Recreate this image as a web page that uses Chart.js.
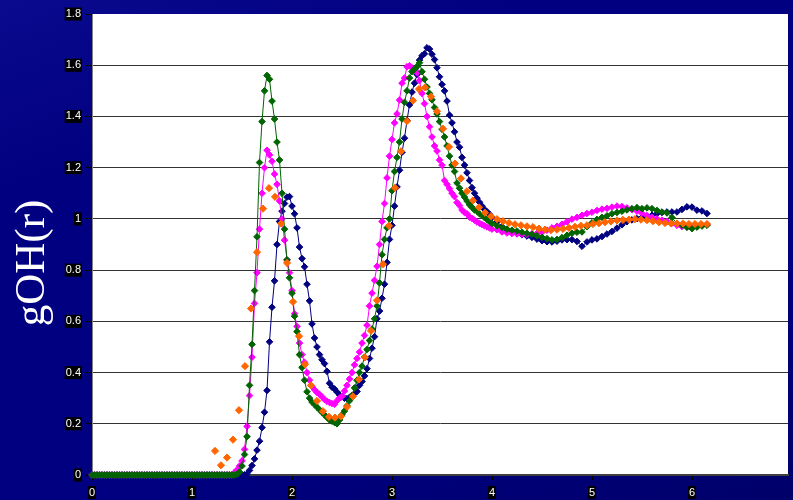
<!DOCTYPE html>
<html><head><meta charset="utf-8">
<script src="https://cdn.jsdelivr.net/npm/chart.js@4/dist/chart.umd.min.js"></script>
<style>
html,body{margin:0;padding:0;width:793px;height:500px;overflow:hidden;}
body{background:linear-gradient(160deg,#0a0a8e 0%,#000080 25%,#000080 70%,#00006a 100%);}
#wrap{position:relative;width:793px;height:500px;}
</style></head><body><div id="wrap"><canvas id="c"></canvas></div>
<script>
// r values shared by the navy, magenta and green series
const rGrid = [
0,0.025,0.05,0.075,0.1,0.125,0.15,0.175,0.2,0.225,0.25,0.275,0.3,0.325,0.35,0.375,0.4,0.425,0.45,0.475,
0.5,0.525,0.55,0.575,0.6,0.625,0.65,0.675,0.7,0.725,0.75,0.775,0.8,0.825,0.85,0.875,0.9,0.925,0.95,0.975,
1,1.025,1.05,1.075,1.1,1.125,1.15,1.175,1.2,1.225,1.25,1.275,1.3,1.325,1.35,1.375,1.4,
1.425,1.45,1.475,1.5,1.525,1.55,1.575,1.6,1.625,1.65,
1.675,1.7,1.725,1.75,1.775,1.8,1.825,1.85,1.875,1.9,
1.925,1.95,1.975,2,2.025,2.05,2.075,2.1,2.125,2.15,
2.175,2.2,2.225,2.25,2.275,2.3,2.325,2.35,2.375,2.4,
2.425,2.45,2.475,2.5,2.525,2.55,2.575,2.6,2.625,2.65,
2.675,2.7,2.725,2.75,2.775,2.8,2.825,2.85,2.875,2.9,
2.925,2.95,2.975,3,3.025,3.05,3.075,3.1,3.125,3.15,
3.175,3.2,3.225,3.25,3.275,3.3,3.325,3.35,3.375,3.4,
3.425,3.45,3.475,3.5,3.525,3.55,3.575,3.6,3.625,3.65,
3.675,3.7,3.725,3.75,3.775,3.8,3.825,3.85,3.875,3.9,
3.925,3.95,3.975,4,
4.05,4.1,4.15,4.2,4.25,4.3,4.35,4.4,4.45,4.5,
4.55,4.6,4.65,4.7,4.75,4.8,4.85,4.9,4.95,5,
5.05,5.1,5.15,5.2,5.25,5.3,5.35,5.4,5.45,5.5,
5.55,5.6,5.65,5.7,5.75,5.8,5.85,5.9,5.95,6,
6.05,6.1,6.15];

const navyG = [
0,0,0,0,0,0,0,0,0,0,0,0,0,0,0,0,0,0,0,0,
0,0,0,0,0,0,0,0,0,0,0,0,0,0,0,0,0,0,0,0,
0,0,0,0,0,0,0,0,0,0,0,0,0,0,0,0,0,
0,0,0,0,0.001,0.004,0.018,0.037,0.063,0.097,
0.132,0.185,0.245,0.33,0.52,0.655,0.758,0.9,0.99,1.03,
1.06,1.085,1.087,1.05,1.02,0.965,0.89,0.845,0.813,0.745,
0.68,0.59,0.535,0.5,0.47,0.45,0.435,0.405,0.358,0.343,
0.336,0.324,0.313,0.305,0.3,0.298,0.303,0.31,0.318,0.326,
0.35,0.365,0.387,0.415,0.455,0.495,0.54,0.61,0.64,0.69,
0.745,0.83,0.92,0.975,1.05,1.125,1.19,1.26,1.315,1.385,
1.445,1.495,1.53,1.564,1.62,1.637,1.645,1.668,1.663,1.643,
1.622,1.59,1.555,1.525,1.5,1.46,1.405,1.375,1.34,1.3,
1.28,1.24,1.21,1.18,1.15,1.122,1.1,1.081,1.065,1.05,
1.037,1.028,1.018,1.005,
0.99,0.97,0.958,0.948,0.944,0.938,0.933,0.928,0.921,0.915,
0.911,0.91,0.913,0.918,0.919,0.919,0.912,0.893,0.91,0.918,
0.922,0.931,0.941,0.951,0.964,0.977,0.989,0.996,1.001,1.006,
1.01,1.014,1.021,1.025,1.027,1.027,1.027,1.037,1.047,1.046,
1.034,1.031,1.021];

const magentaG = [
0,0,0,0,0,0,0,0,0,0,0,0,0,0,0,0,0,0,0,0,
0,0,0,0,0,0,0,0,0,0,0,0,0,0,0,0,0,0,0,0,
0,0,0,0,0,0,0,0,0,0,0,0,0,0,0,0,0,
0.01,0.02,0.035,0.055,0.1,0.19,0.31,0.46,0.67,0.79,
0.96,1.1,1.2,1.268,1.25,1.225,1.175,1.135,1.07,1.0,
0.917,0.84,0.79,0.72,0.63,0.58,0.515,0.47,0.44,0.4,
0.37,0.345,0.333,0.322,0.315,0.305,0.295,0.288,0.283,0.279,
0.276,0.29,0.3,0.307,0.328,0.35,0.375,0.4,0.43,0.455,
0.48,0.515,0.545,0.585,0.66,0.71,0.76,0.815,0.9,0.99,
1.06,1.16,1.245,1.31,1.375,1.41,1.464,1.53,1.55,1.594,
1.598,1.59,1.585,1.572,1.54,1.49,1.45,1.4,1.36,1.32,
1.285,1.265,1.23,1.21,1.15,1.135,1.118,1.1,1.087,1.064,
1.052,1.035,1.025,1.02,1.007,1.002,0.995,0.988,0.983,0.978,
0.973,0.969,0.965,0.96,
0.958,0.949,0.945,0.943,0.941,0.94,0.94,0.942,0.944,0.948,
0.956,0.965,0.971,0.979,0.989,0.999,1.006,1.014,1.021,1.026,
1.033,1.038,1.041,1.046,1.05,1.048,1.043,1.036,1.03,1.022,
1.013,1.006,1.0,0.995,0.99,0.983,0.975,0.97,0.969,0.969,
0.97,0.975,0.978];

const greenG = [
0,0,0,0,0,0,0,0,0,0,0,0,0,0,0,0,0,0,0,0,
0,0,0,0,0,0,0,0,0,0,0,0,0,0,0,0,0,0,0,0,
0,0,0,0,0,0,0,0,0,0,0,0,0,0,0,0,0,
0,0.003,0.012,0.035,0.08,0.15,0.35,0.51,0.72,0.93,
1.22,1.38,1.5,1.56,1.545,1.46,1.39,1.3,1.23,1.1,
0.96,0.84,0.77,0.71,0.62,0.56,0.47,0.42,0.37,0.325,
0.3,0.285,0.275,0.265,0.255,0.245,0.235,0.225,0.215,0.21,
0.205,0.2,0.215,0.235,0.25,0.27,0.29,0.31,0.34,0.37,
0.4,0.425,0.46,0.49,0.525,0.57,0.61,0.66,0.75,0.86,
0.92,0.965,1.0,1.11,1.185,1.24,1.3,1.39,1.455,1.5,
1.55,1.575,1.585,1.595,1.61,1.575,1.545,1.515,1.49,1.465,
1.435,1.41,1.38,1.35,1.32,1.285,1.245,1.21,1.185,1.14,
1.12,1.1,1.085,1.07,1.055,1.045,1.035,1.03,1.02,1.014,
1.005,0.998,0.99,0.982,
0.973,0.967,0.96,0.956,0.953,0.948,0.944,0.94,0.934,0.928,
0.923,0.918,0.92,0.927,0.936,0.944,0.948,0.949,0.97,0.985,
0.998,1.006,1.012,1.02,1.025,1.03,1.035,1.04,1.044,1.04,
1.043,1.04,1.033,1.027,1.023,1.005,0.982,0.975,0.967,0.962,
0.968,0.972,0.975];

// orange series has its own r values (markers only)
const rOrange = [
1.23,1.29,1.35,1.41,1.47,1.53,1.59,1.65,1.71,1.77,
1.83,1.89,1.95,2.01,2.07,2.13,2.19,2.25,2.31,2.37,
2.43,2.49,2.55,2.61,2.67,2.73,2.79,2.85,2.91,2.97,
3.03,3.09,3.15,3.21,3.27,3.33,3.39,3.45,3.51,3.57,
3.63,3.69,3.75,3.81,3.87,3.93,3.99,4.05,4.11,4.17,
4.23,4.29,4.35,4.41,4.47,4.53,4.59,4.65,4.71,4.77,
4.83,4.89,4.95,5.01,5.07,5.13,5.19,5.25,5.31,5.37,
5.43,5.49,5.55,5.61,5.67,5.73,5.79,5.85,5.91,5.97,
6.03,6.09,6.15];
const orangeG = [
0.094,0.038,0.068,0.138,0.253,0.425,0.65,0.87,1.04,1.12,
1.086,0.982,0.828,0.676,0.542,0.432,0.35,0.289,0.249,0.227,
0.224,0.229,0.266,0.307,0.373,0.459,0.563,0.682,0.823,0.973,
1.121,1.264,1.382,1.462,1.507,1.513,1.477,1.42,1.352,1.281,
1.216,1.158,1.108,1.072,1.045,1.024,1.01,0.999,0.991,0.984,
0.979,0.975,0.971,0.968,0.962,0.958,0.956,0.958,0.961,0.965,
0.969,0.973,0.975,0.98,0.983,0.987,0.99,0.994,0.996,0.997,
0.999,0.997,0.995,0.991,0.987,0.984,0.982,0.982,0.982,0.98,
0.98,0.98,0.98];

const xTickValues = [0,1,2,3,4,5,6];
const yTickValues = [0,0.2,0.4,0.6,0.8,1,1.2,1.4,1.6,1.8];
const yTitle = 'gOH(r)';

function pts(xs, ys){ return xs.map((x,i)=>({x:x, y:ys[i]})); }

function series(label, xs, ys, color, order, line, radius){
  return {
    label: label, data: pts(xs, ys), order: order, clip: false,
    showLine: line, borderColor: color, backgroundColor: color,
    borderWidth: 1, tension: 0,
    pointStyle: 'rectRot', pointRadius: radius, pointBorderWidth: 1,
    pointBorderColor: color, pointBackgroundColor: color
  };
}

const plotBg = {
  id: 'plotBg',
  beforeDraw(chart){
    const a = chart.chartArea, ctx = chart.ctx;
    ctx.save(); ctx.fillStyle = '#ffffff';
    ctx.fillRect(a.left, a.top, a.right - a.left, a.bottom - a.top);
    ctx.restore();
  }
};
const sideTitle = {
  id: 'sideTitle',
  afterDraw(chart){
    const ctx = chart.ctx;
    ctx.save();
    ctx.translate(33, 263);
    ctx.rotate(-Math.PI/2);
    ctx.fillStyle = '#ffffff';
    ctx.font = '43px "Liberation Serif", "Times New Roman", serif';
    ctx.textAlign = 'center'; ctx.textBaseline = 'middle';
    ctx.fillText(yTitle, 0, 0);
    ctx.restore();
  }
};

const tickFont = {family: '"Liberation Sans", Arial, sans-serif', size: 11, lineHeight: 1.0};
const fmt = (v) => String(+Number(v).toFixed(1));

new Chart(document.getElementById('c'), {
  type: 'scatter',
  data: { datasets: [
    series('navy', rGrid, navyG, '#000080', 3, true, 3.3),
    series('magenta', rGrid, magentaG, '#ff00ff', 2, true, 3.3),
    series('green', rGrid, greenG, '#006400', 1, true, 3.3),
    series('orange', rOrange, orangeG, '#ff6600', 0, false, 3.6)
  ]},
  options: {
    responsive: true, maintainAspectRatio: false, animation: false,
    layout: { padding: {left: 0, right: 0, top: 14, bottom: 0} },
    plugins: { legend: {display: false}, tooltip: {enabled: false} },
    scales: {
      x: {
        type: 'linear', min: 0, max: 6.96,
        afterBuildTicks(s){ s.ticks = xTickValues.map(v => ({value: v})); },
        afterFit(s){ s.height = 25; },
        grid: { drawOnChartArea: false, drawTicks: true, tickLength: 5, tickColor: '#000000', tickWidth: 1 },
        border: { display: true, color: '#404040', width: 2 },
        ticks: { color: '#ffffff', font: tickFont, padding: 7, maxRotation: 0, callback: fmt,
                 showLabelBackdrop: true, backdropColor: '#000000',
                 backdropPadding: {left: 1, right: 1, top: 1, bottom: 1} }
      },
      y: {
        type: 'linear', min: 0, max: 1.8,
        afterBuildTicks(s){ s.ticks = yTickValues.map(v => ({value: v})); },
        afterFit(s){ s.width = 92; },
        grid: {
          color: (c) => (c.tick && c.tick.value >= 1.79) ? 'rgba(0,0,0,0)' : '#333333',
          lineWidth: 1, drawTicks: true, tickLength: 6, tickColor: '#000000', tickWidth: 1
        },
        border: { display: true, color: '#808080', width: 1 },
        ticks: { color: '#ffffff', font: tickFont, padding: 5, callback: fmt,
                 showLabelBackdrop: true, backdropColor: '#000000',
                 backdropPadding: {left: 1, right: 1, top: 1, bottom: 1} }
      }
    }
  },
  plugins: [plotBg, sideTitle]
});
</script></body></html>
